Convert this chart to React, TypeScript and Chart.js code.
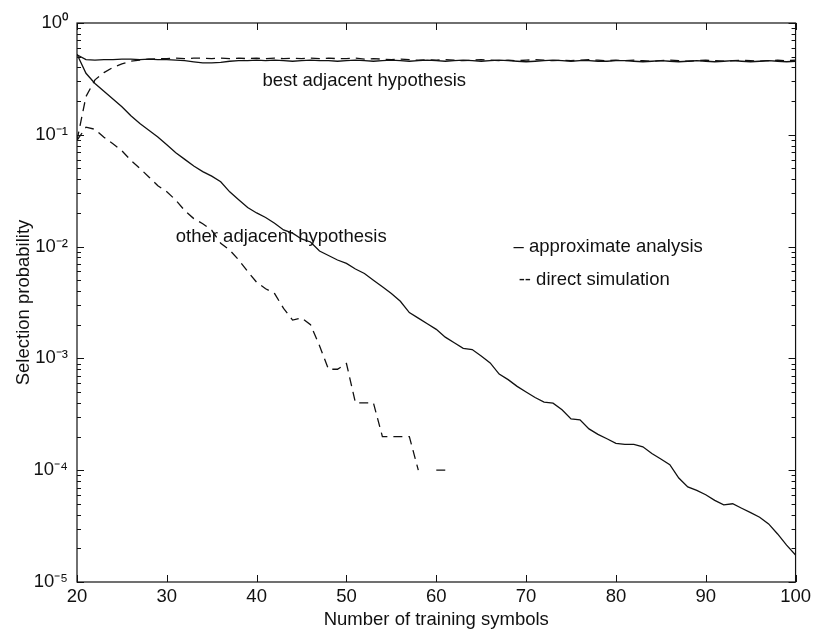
import React, { useEffect, useRef } from "react";
import { Chart, registerables } from "chart.js";

Chart.register(...registerables);

// ---- data ----
const symbols = [
  20, 21, 22, 23, 24, 25, 26, 27, 28, 29,
  30, 31, 32, 33, 34, 35, 36, 37, 38, 39,
  40, 41, 42, 43, 44, 45, 46, 47, 48, 49,
  50, 51, 52, 53, 54, 55, 56, 57, 58, 59,
  60, 61, 62, 63, 64, 65, 66, 67, 68, 69,
  70, 71, 72, 73, 74, 75, 76, 77, 78, 79,
  80, 81, 82, 83, 84, 85, 86, 87, 88, 89,
  90, 91, 92, 93, 94, 95, 96, 97, 98, 99,
  100,
];

// approximate analysis, best adjacent hypothesis (solid)
const approxBest = [
  0.52, 0.47, 0.465, 0.47, 0.47, 0.475, 0.475, 0.47, 0.475, 0.47,
  0.47, 0.465, 0.46, 0.45, 0.44, 0.44, 0.445, 0.455, 0.46, 0.46,
  0.465, 0.46, 0.465, 0.46, 0.455, 0.46, 0.465, 0.46, 0.46, 0.455,
  0.46, 0.465, 0.46, 0.455, 0.46, 0.465, 0.46, 0.455, 0.46, 0.465,
  0.46, 0.455, 0.46, 0.465, 0.46, 0.455, 0.46, 0.465, 0.46, 0.455,
  0.45, 0.455, 0.46, 0.465, 0.46, 0.455, 0.46, 0.46, 0.455, 0.455,
  0.46, 0.46, 0.455, 0.45, 0.455, 0.46, 0.455, 0.45, 0.455, 0.46,
  0.455, 0.45, 0.455, 0.46, 0.455, 0.45, 0.455, 0.46, 0.455, 0.45,
  0.455,
];

// approximate analysis, other adjacent hypothesis (solid)
const approxOther = [
  0.525, 0.355, 0.288, 0.245, 0.209, 0.178, 0.148, 0.126, 0.110, 0.0955,
  0.0813, 0.0692, 0.0603, 0.0525, 0.0468, 0.0427, 0.0380, 0.0309, 0.0263, 0.0224,
  0.0200, 0.0182, 0.0162, 0.0141, 0.0132, 0.0117, 0.0110, 0.00912, 0.00832, 0.00759,
  0.00708, 0.00631, 0.00575, 0.00501, 0.00437, 0.00380, 0.00324, 0.00257, 0.00229, 0.00204,
  0.00182, 0.00155, 0.00138, 0.00123, 0.00120, 0.00105, 0.000912, 0.000724, 0.000646, 0.000562,
  0.000501, 0.000447, 0.000407, 0.000398, 0.000347, 0.000288, 0.000282, 0.000234, 0.000209, 0.000191,
  0.000174, 0.000170, 0.000170, 0.000162, 0.000141, 0.000126, 0.000112, 0.0000851, 0.0000708, 0.0000661,
  0.0000603, 0.0000537, 0.0000490, 0.0000501, 0.0000457, 0.0000417, 0.0000380, 0.0000331, 0.0000269, 0.0000214,
  0.0000174,
];

// direct simulation, best adjacent hypothesis (dashed)
const simBest = [
  0.089, 0.22, 0.31, 0.36, 0.40, 0.43, 0.455, 0.465, 0.475, 0.48,
  0.48, 0.485, 0.48, 0.485, 0.485, 0.48, 0.485, 0.48, 0.485, 0.48,
  0.485, 0.48, 0.485, 0.48, 0.485, 0.48, 0.485, 0.48, 0.485, 0.48,
  0.48, 0.485, 0.475, 0.48, 0.475, 0.47, 0.475, 0.47, 0.465, 0.47,
  0.465, 0.47, 0.465, 0.46, 0.465, 0.47, 0.465, 0.46, 0.465, 0.46,
  0.465, 0.47, 0.465, 0.46, 0.465, 0.46, 0.465, 0.47, 0.465, 0.46,
  0.465, 0.46, 0.465, 0.46, 0.455, 0.46, 0.465, 0.46, 0.455, 0.46,
  0.465, 0.46, 0.455, 0.46, 0.465, 0.46, 0.455, 0.46, 0.465, 0.46,
  0.465,
];

// direct simulation, other adjacent hypothesis (dashed); null = zero count
const simOther = [
  0.089, 0.117, 0.112, 0.095, 0.083, 0.072, 0.059, 0.050, 0.042, 0.035,
  0.031, 0.026, 0.021, 0.0178, 0.016, 0.014, 0.0107, 0.0093, 0.0076, 0.0060,
  0.0048, 0.0042, 0.0038, 0.0028, 0.0022, 0.0023, 0.0020, 0.0013, 0.0008, 0.0008,
  0.0009, 0.0004, 0.0004, 0.0004, 0.0002, 0.0002, 0.0002, 0.0002, 0.0001, null,
  0.0001, 0.0001, null, null, null, null, null, null, null, null,
  null, null, null, null, null, null, null, null, null, null,
  null, null, null, null, null, null, null, null, null, null,
  null, null, null, null, null, null, null, null, null, null,
  null,
];

const xTickValues = [20, 30, 40, 50, 60, 70, 80, 90, 100];
const yTickValues = [1, 0.1, 0.01, 0.001, 0.0001, 0.00001];
const yTickLabels = ["10⁰", "10⁻¹", "10⁻²", "10⁻³", "10⁻⁴", "10⁻⁵"];
const yMinorMultipliers = [2, 3, 4, 5, 6, 7, 8, 9];

const annotationTexts = [
  "best adjacent hypothesis",
  "other adjacent hypothesis",
  "– approximate analysis",
  "-- direct simulation",
];
const annotationAnchorsX = [40.64, 31.0, 68.6, 69.17];
const annotationAnchorsY = [0.303, 0.0122, 0.0099, 0.00502];

const FONT = "'Liberation Sans', Arial, Helvetica, sans-serif";
const INK = "#111111";

const frameTicksPlugin = {
  id: "frameTicks",
  afterDraw(chart: any) {
    const { ctx, chartArea } = chart;
    const { left, right, top, bottom } = chartArea;
    const xs = chart.scales.x;
    const ys = chart.scales.y;
    ctx.save();
    ctx.strokeStyle = INK;
    ctx.lineWidth = 1.2;
    ctx.strokeRect(left, top, right - left, bottom - top);
    ctx.lineWidth = 1;
    ctx.beginPath();
    xTickValues.forEach((v) => {
      const px = Math.round(xs.getPixelForValue(v)) + 0.5;
      ctx.moveTo(px, bottom);
      ctx.lineTo(px, bottom - 7);
      ctx.moveTo(px, top);
      ctx.lineTo(px, top + 7);
    });
    yTickValues.forEach((v) => {
      const py = Math.round(ys.getPixelForValue(v)) + 0.5;
      ctx.moveTo(left, py);
      ctx.lineTo(left + 7, py);
      ctx.moveTo(right, py);
      ctx.lineTo(right - 7, py);
      if (v < 1) {
        yMinorMultipliers.forEach((m) => {
          const mv = v * m;
          const mp = Math.round(ys.getPixelForValue(mv)) + 0.5;
          ctx.moveTo(left, mp);
          ctx.lineTo(left + 4, mp);
          ctx.moveTo(right, mp);
          ctx.lineTo(right - 4, mp);
        });
      }
    });
    ctx.stroke();
    ctx.restore();
  },
};

const annotationPlugin = {
  id: "textAnnotations",
  afterDatasetsDraw(chart: any) {
    const { ctx } = chart;
    const xs = chart.scales.x;
    const ys = chart.scales.y;
    ctx.save();
    ctx.font = `18.5px ${FONT}`;
    ctx.fillStyle = INK;
    ctx.textAlign = "left";
    ctx.textBaseline = "middle";
    annotationTexts.forEach((t, i) => {
      ctx.fillText(
        t,
        xs.getPixelForValue(annotationAnchorsX[i]),
        ys.getPixelForValue(annotationAnchorsY[i])
      );
    });
    ctx.restore();
  },
};

function toPoints(values: (number | null)[]) {
  return symbols.map((x, i) => ({ x, y: values[i] }));
}

export default function App() {
  const canvasRef = useRef<HTMLCanvasElement | null>(null);

  useEffect(() => {
    if (!canvasRef.current) return;
    const lineBase = {
      borderColor: INK,
      borderWidth: 1.3,
      pointRadius: 0,
      tension: 0,
      fill: false,
      spanGaps: false,
    };
    const chart = new Chart(canvasRef.current, {
      type: "line",
      data: {
        datasets: [
          { ...lineBase, label: "approximate analysis (best)", data: toPoints(approxBest) },
          { ...lineBase, label: "approximate analysis (other)", data: toPoints(approxOther) },
          { ...lineBase, label: "direct simulation (best)", data: toPoints(simBest), borderDash: [9, 6] },
          { ...lineBase, label: "direct simulation (other)", data: toPoints(simOther), borderDash: [9, 6] },
        ],
      },
      options: {
        responsive: false,
        animation: false,
        devicePixelRatio: 1,
        layout: { padding: { top: 23, right: 17, left: 0, bottom: 0 } },
        plugins: {
          legend: { display: false },
          tooltip: { enabled: false },
        },
        scales: {
          x: {
            type: "linear",
            min: 20,
            max: 100,
            grid: { display: false, drawTicks: false },
            border: { display: false },
            ticks: {
              stepSize: 10,
              padding: 4,
              color: INK,
              font: { family: FONT, size: 18.5 },
              maxRotation: 0,
            },
            title: {
              display: true,
              text: "Number of training symbols",
              color: INK,
              font: { family: FONT, size: 18.5 },
              padding: { top: 0, bottom: 0 },
            },
            afterBuildTicks: (scale: any) => {
              scale.ticks = xTickValues.map((v) => ({ value: v }));
            },
            afterFit: (scale: any) => {
              scale.height = 49;
            },
          },
          y: {
            type: "logarithmic",
            min: 0.00001,
            max: 1,
            grid: { display: false, drawTicks: false },
            border: { display: false },
            ticks: {
              padding: 9,
              color: INK,
              font: { family: FONT, size: 18.5 },
              callback: (value: any) => {
                const idx = yTickValues.findIndex(
                  (v) => Math.abs(Math.log10(v) - Math.log10(Number(value))) < 1e-6
                );
                return idx >= 0 ? yTickLabels[idx] : "";
              },
            },
            title: {
              display: true,
              text: "Selection probability",
              color: INK,
              font: { family: FONT, size: 18.5 },
              padding: { top: 13, bottom: 0 },
            },
            afterBuildTicks: (scale: any) => {
              scale.ticks = yTickValues.map((v) => ({ value: v }));
            },
            afterFit: (scale: any) => {
              scale.width = 77;
            },
          },
        },
      },
      plugins: [frameTicksPlugin, annotationPlugin],
    });
    return () => chart.destroy();
  }, []);

  return (
    <div
      style={{
        position: "absolute",
        left: 0,
        top: 0,
        width: 815,
        height: 631,
        background: "#ffffff",
      }}
    >
      <canvas ref={canvasRef} width={815} height={631} style={{ display: "block" }} />
    </div>
  );
}
